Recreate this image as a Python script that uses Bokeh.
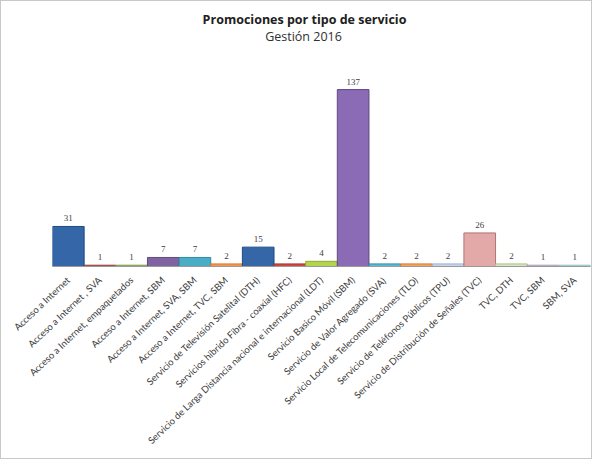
from bokeh.plotting import figure
from bokeh.models import ColumnDataSource, FactorRange, Range1d, LabelSet, Label
from bokeh.embed import file_html
from bokeh.resources import INLINE

title_text = "Promociones por tipo de servicio"
subtitle_text = "Gestión 2016"

categories = [
    "Acceso a Internet",
    "Acceso a Internet , SVA",
    "Acceso a Internet, empaquetados",
    "Acceso a Internet, SBM",
    "Acceso a Internet, SVA, SBM",
    "Acceso a Internet, TVC, SBM",
    "Servicio de Televisión Satelital (DTH)",
    "Servicios hibrido Fibra - coaxial (HFC)",
    "Servicio de Larga Distancia nacional e internacional (LDT)",
    "Servicio Basico Móvil (SBM)",
    "Servicio de Valor Agregado (SVA)",
    "Servicio Local de Telecomunicaciones (TLO)",
    "Servicio de Teléfonos Públicos (TPU)",
    "Servicio de Distribución de Señales (TVC)",
    "TVC, DTH",
    "TVC, SBM",
    "SBM, SVA",
]
values = [31, 1, 1, 7, 7, 2, 15, 2, 4, 137, 2, 2, 2, 26, 2, 1, 1]
fill_colors = ["#3466A8", "#C0504D", "#9BBB59", "#8064A2", "#4BACC6", "#F79646",
               "#3466A8", "#D24A47", "#B4D34E", "#8B6AB6", "#5BBCD6", "#F6A25A",
               "#C6D6EA", "#E3A9A8", "#D7E4BD", "#CCC1DA", "#B7DEE8"]
line_colors = ["#1F4A82", "#9A3B39", "#7E9A45", "#5F4A7E", "#2F8BA3", "#D27A35",
               "#1F4A82", "#A03532", "#8FAA35", "#5F4A7E", "#2F8BA3", "#D27A35",
               "#9AB1CF", "#B27473", "#AFC08C", "#A99BBD", "#8FBFCC"]

src = ColumnDataSource(dict(cat=categories, val=values, fill=fill_colors,
                            line=line_colors, lab=[str(v) for v in values]))

Y_END = 199
p = figure(width=592, height=459, output_backend="svg", toolbar_location=None,
           x_range=FactorRange(*categories, range_padding=0),
           y_range=Range1d(0, Y_END),
           min_border_left=51, min_border_right=3, min_border_top=8,
           min_border_bottom=194)
p.title = None

mid = len(categories) / 2
p.add_layout(Label(x=mid, y=Y_END, x_offset=-17, y_offset=-10,
                   text=title_text, text_align="center", text_baseline="middle",
                   text_font="Open Sans", text_font_size="12.5px",
                   text_font_style="bold", text_color="#202020"))
p.add_layout(Label(x=mid, y=Y_END, x_offset=-18, y_offset=-27,
                   text=subtitle_text, text_align="center", text_baseline="middle",
                   text_font="Open Sans", text_font_size="12.5px",
                   text_font_style="normal", text_color="#303030"))

p.vbar(x="cat", top="val", width=1.0, source=src, fill_color="fill",
       line_color="line", line_width=1)

labels = LabelSet(x="cat", y="val", text="lab", source=src, text_align="center",
                  text_baseline="bottom", y_offset=5, text_font_size="9px",
                  text_font="Lato", text_color="#404040")
p.add_layout(labels)

p.yaxis.visible = False
p.xgrid.grid_line_color = None
p.ygrid.grid_line_color = None
p.outline_line_color = None
p.xaxis.axis_line_color = "#9a9a9a"
p.xaxis.major_tick_line_color = None
p.xaxis.minor_tick_line_color = None
p.xaxis.major_label_orientation = 0.76
p.xaxis.major_label_text_font = "Lato"
p.xaxis.major_label_text_font_size = "9.5px"
p.xaxis.major_label_text_color = "#404040"
p.xaxis.major_label_standoff = 6
p.styles = {"border": "1px solid #c8c8c8"}

open("out.html", "w").write(file_html(p, INLINE))
